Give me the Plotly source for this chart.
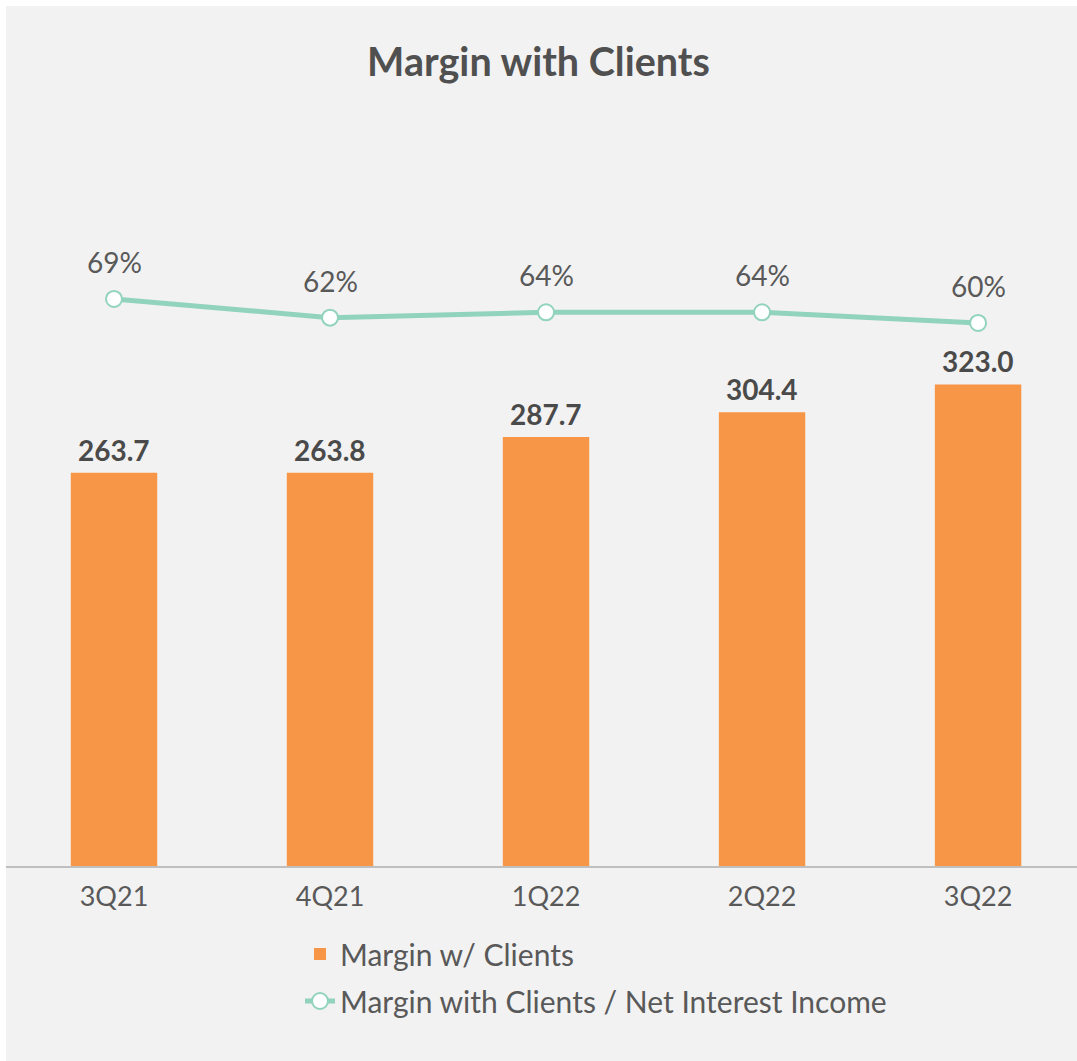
import plotly.graph_objects as go

categories = ["3Q21", "4Q21", "1Q22", "2Q22", "3Q22"]
margin_clients = [263.7, 263.8, 287.7, 304.4, 323.0]
ratio_nii = [0.69, 0.62, 0.64, 0.64, 0.60]
bar_labels = ["263.7", "263.8", "287.7", "304.4", "323.0"]
ratio_labels = ["69%", "62%", "64%", "64%", "60%"]

ORANGE = "#F79646"
GREEN = "#92D3BD"
TEXT = "#595959"
DARK = "#4A4A4A"
FONT = "Lato"

W, H = 1077, 1061
ML, MR, MT, MB = 6, 0, 160, 195
PH = H - MT - MB

fig = go.Figure()
fig.add_trace(go.Bar(
    x=list(range(len(categories))), y=margin_clients, name="Margin w/ Clients",
    marker=dict(color=ORANGE, line=dict(width=0)), width=0.4,
    legendgroup="a", hoverinfo="skip",
))
fig.add_trace(go.Scatter(
    x=list(range(len(categories))), y=ratio_nii, name="Margin with Clients / Net Interest Income",
    yaxis="y2", mode="lines+markers",
    line=dict(color=GREEN, width=5),
    marker=dict(size=16, color="white", line=dict(color=GREEN, width=2)),
    legendgroup="b", hoverinfo="skip",
))

annotations = []
for i, (v, t) in enumerate(zip(margin_clients, bar_labels)):
    annotations.append(dict(x=i, y=v, xref="x", yref="y", text=f"<b>{t}</b>",
                            showarrow=False, yanchor="bottom", yshift=4,
                            font=dict(family=FONT, size=28, color=DARK)))
for i, (v, t) in enumerate(zip(ratio_nii, ratio_labels)):
    annotations.append(dict(x=i, y=v, xref="x", yref="y2", text=t,
                            showarrow=False, yanchor="bottom", yshift=18,
                            font=dict(family=FONT, size=28, color=TEXT)))

fig.update_layout(
    width=W, height=H,
    margin=dict(l=ML, r=MR, t=MT, b=MB, pad=0),
    paper_bgcolor="#F2F2F2", plot_bgcolor="#F2F2F2",
    title=dict(text="<b>Margin with Clients</b>", x=0.5, xanchor="center",
               y=1 - 62 / H, yanchor="middle",
               font=dict(family=FONT, size=39.5, color="#505050")),
    xaxis=dict(range=[-0.5, 4.458], tickmode="array",
               tickvals=list(range(len(categories))), ticktext=categories,
               showgrid=False, zeroline=False, showline=True,
               linecolor="#BFBFBF", linewidth=2, ticks="", ticklen=0,
               ticklabelstandoff=6,
               tickfont=dict(family=FONT, size=27, color=TEXT)),
    yaxis=dict(range=[0, PH / 1.491], visible=False, showgrid=False, zeroline=False),
    yaxis2=dict(range=[-1.436, 1.211], overlaying="y", side="right",
                visible=False, showgrid=False, zeroline=False),
    showlegend=True,
    legend=dict(x=(300 - ML) / (W - ML - MR), xanchor="left",
                y=-(928 - (H - MB)) / PH, yanchor="top",
                traceorder="grouped", tracegroupgap=5,
                bgcolor="rgba(0,0,0,0)",
                font=dict(family=FONT, size=30, color=TEXT)),
    annotations=annotations,
    bargap=0.6,
)

# white page border strips (top and left)
fig.add_shape(type="rect", xref="paper", yref="paper",
              x0=-ML / (W - ML), x1=0, y0=-MB / PH, y1=(PH + MT) / PH,
              fillcolor="white", line=dict(width=0), layer="above")
fig.add_shape(type="rect", xref="paper", yref="paper",
              x0=-ML / (W - ML), x1=1.01, y0=(PH + MT - 6) / PH, y1=(PH + MT) / PH,
              fillcolor="white", line=dict(width=0), layer="above")

fig.write_html("out.html", config={"displayModeBar": False},
               post_script="document.body.style.margin='0px';")
